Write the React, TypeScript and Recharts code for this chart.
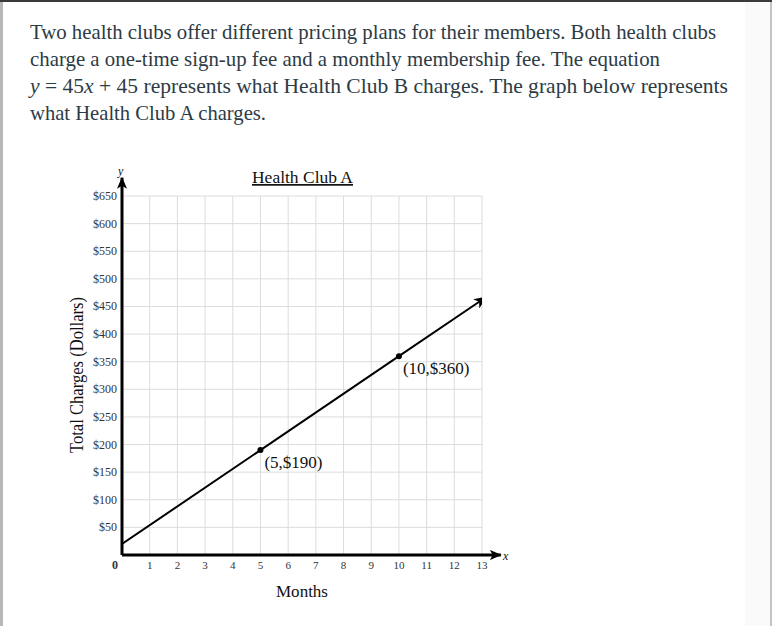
import React from "react";
import { ComposedChart, Line, XAxis, YAxis, CartesianGrid, ReferenceLine } from "recharts";

const monthTicks = [0, 1, 2, 3, 4, 5, 6, 7, 8, 9, 10, 11, 12, 13];
const dollarTicks = [0, 50, 100, 150, 200, 250, 300, 350, 400, 450, 500, 550, 600, 650];
const lineMonths = [0, 5, 10, 13.15];
const lineCharges = [20, 190, 360, 467];
const pointLabels = ["", "(5,$190)", "(10,$360)", ""];
const xAxisSegment = [{ x: 0, y: 0 }, { x: 13.68, y: 0 }];
const yAxisSegment = [{ x: 0, y: 0 }, { x: 0, y: 683 }];

const data = lineMonths.map((m, i) => ({ month: m, charge: lineCharges[i], label: pointLabels[i] }));

const SERIF = "'Liberation Serif', 'DejaVu Serif', serif";
const TEXT_COLOR = "#2d3b45";

const AxisShape = (p: any) => (
  <line x1={p.x1} y1={p.y1} x2={p.x2} y2={p.y2} stroke="#000" strokeWidth={3} markerEnd="url(#arrowAxis)" />
);

const renderXTick = (p: any) => {
  const v = p.payload.value;
  return (
    <text
      key={"xt" + v}
      x={v === 0 ? p.x - 7 : p.x}
      y={p.y + 6}
      textAnchor="middle"
      fontSize={v === 0 ? 12 : 11}
      fontWeight={v === 0 ? "bold" : "normal"}
      fill="#333"
      fontFamily={SERIF}
    >
      {v}
    </text>
  );
};

const renderYTick = (p: any) => {
  const v = p.payload.value;
  if (v === 0) return <g key="yt0" />;
  return (
    <text key={"yt" + v} x={p.x + 3} y={p.y} dy={4} textAnchor="end" fontSize={12} fill="#333" fontFamily={SERIF}>
      {"$" + v}
    </text>
  );
};

const Dot = (p: any) => {
  const { cx, cy, payload, index } = p;
  if (!payload.label) return <g key={"d" + index} />;
  return (
    <g key={"d" + index}>
      <circle cx={cx} cy={cy} r={3} fill="#000" />
      <text x={cx + 4} y={cy + 18} fontSize={17} fill="#111" fontFamily={SERIF}>
        {payload.label}
      </text>
    </g>
  );
};

export default function App() {
  return (
    <div style={{ position: "absolute", left: 0, top: 0, width: 772, height: 626, background: "#fff", overflow: "hidden" }}>
      <svg width={0} height={0} style={{ position: "absolute" }}>
        <defs>
          <marker id="arrowAxis" markerUnits="userSpaceOnUse" markerWidth={12} markerHeight={10} refX={11} refY={5} orient="auto">
            <path d="M0,0 L12,5 L0,10 L3,5 z" fill="#000" />
          </marker>
          <marker id="arrowData" markerUnits="userSpaceOnUse" markerWidth={13} markerHeight={11} refX={12} refY={5.5} orient="auto">
            <path d="M0,0 L13,5.5 L0,11 L3.5,5.5 z" fill="#000" />
          </marker>
        </defs>
      </svg>
      <div style={{ position: "absolute", left: 0, top: 0, width: 772, height: 2, background: "#3a3a3a" }} />
      <div style={{ position: "absolute", left: 0, top: 2, width: 3, height: 624, background: "#b8b8b8" }} />
      <div style={{ position: "absolute", left: 745, top: 2, width: 25, height: 624, background: "#fafafa" }} />
      <div style={{ position: "absolute", left: 770, top: 2, width: 2, height: 624, background: "#c4c4c4" }} />
      <div style={{ position: "absolute", left: 0, top: 0 }}>
        <ComposedChart width={772} height={626} data={data} margin={{ top: 196, right: 290, bottom: 41, left: 82 }}>
          <CartesianGrid stroke="#dcdcdc" strokeWidth={1} />
          <XAxis
            type="number"
            dataKey="month"
            domain={[0, 13]}
            ticks={monthTicks}
            interval={0}
            axisLine={false}
            tickLine={false}
            height={30}
            tick={renderXTick}
            allowDataOverflow
          />
          <YAxis
            type="number"
            domain={[0, 650]}
            ticks={dollarTicks}
            interval={0}
            axisLine={false}
            tickLine={false}
            width={40}
            tick={renderYTick}
            allowDataOverflow
          />
          <ReferenceLine segment={xAxisSegment} ifOverflow="visible" shape={AxisShape} />
          <ReferenceLine segment={yAxisSegment} ifOverflow="visible" shape={AxisShape} />
          <Line
            type="linear"
            dataKey="charge"
            stroke="#000"
            strokeWidth={2}
            dot={Dot}
            activeDot={false}
            isAnimationActive={false}
            markerEnd="url(#arrowData)"
          />
        </ComposedChart>
      </div>
      <svg width={772} height={626} style={{ position: "absolute", left: 0, top: 0, pointerEvents: "none" }}>
        <g fontFamily={SERIF} fill={TEXT_COLOR} fontSize={21}>
          <text x={30} y={38.5} textLength={686} lengthAdjust="spacingAndGlyphs">
            Two health clubs offer different pricing plans for their members. Both health clubs
          </text>
          <text x={30} y={65.5} textLength={630} lengthAdjust="spacingAndGlyphs">
            charge a one-time sign-up fee and a monthly membership fee. The equation
          </text>
          <text x={30} y={92.7} textLength={698} lengthAdjust="spacingAndGlyphs">
            <tspan fontStyle="italic">y</tspan>
            <tspan> = 45</tspan>
            <tspan fontStyle="italic">x</tspan>
            <tspan> + 45 represents what Health Club B charges. The graph below represents</tspan>
          </text>
          <text x={30} y={120} textLength={236} lengthAdjust="spacingAndGlyphs">
            what Health Club A charges.
          </text>
        </g>
        <g fontFamily={SERIF} fill="#111">
          <text x={252} y={183} fontSize={17} textLength={101} lengthAdjust="spacingAndGlyphs" textDecoration="underline">
            Health Club A
          </text>
          <text x={276} y={597} fontSize={17} textLength={52} lengthAdjust="spacingAndGlyphs">
            Months
          </text>
          <text
            transform="translate(83,453) rotate(-90)"
            x={0}
            y={0}
            fontSize={18}
            textLength={156}
            lengthAdjust="spacingAndGlyphs"
          >
            Total Charges (Dollars)
          </text>
          <text x={118} y={175} fontSize={12} fontStyle="italic">y</text>
          <text x={503} y={560} fontSize={12} fontStyle="italic">x</text>
        </g>
      </svg>
    </div>
  );
}
